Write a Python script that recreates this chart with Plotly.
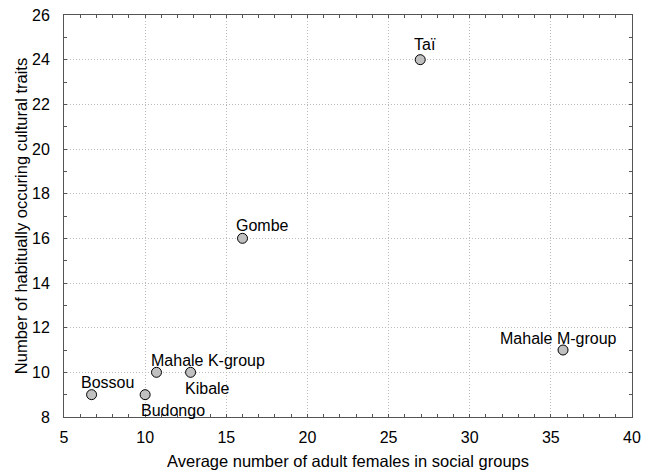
import plotly.graph_objects as go

sites = ["Bossou", "Budongo", "Mahale K-group", "Kibale", "Gombe", "Taï", "Mahale M-group"]
females = [6.7, 10.0, 10.7, 12.8, 16.0, 26.95, 35.75]
traits = [9, 9, 10, 10, 16, 24, 11]
label_dx = [16, 28, 51, 17, 20, 5, -5]
label_dy = [12, -16, 12, -16, 13, 15, 12]

FONT = "Liberation Sans, Arial"
fig = go.Figure()
fig.add_trace(go.Scatter(
    x=females, y=traits, mode="markers",
    marker=dict(size=10, color="#c0c0c0", line=dict(color="#000000", width=1)),
    hoverinfo="text", text=sites, showlegend=False,
))
for s, x, y, dx, dy in zip(sites, females, traits, label_dx, label_dy):
    fig.add_annotation(x=x, y=y, text=s, showarrow=False, xshift=dx, yshift=dy,
                       font=dict(family=FONT, size=16, color="#000000"))

axis_common = dict(
    showgrid=True, gridcolor="#bbbbbb", griddash="1px,2px", gridwidth=1,
    showline=True, linecolor="#555555", linewidth=1, mirror="ticks",
    ticks="inside", ticklen=3, tickcolor="#555555",
    minor=dict(ticks="inside", ticklen=3, tickcolor="#555555", dtick=1, showgrid=False),
    zeroline=False, automargin=False, ticklabeloverflow="allow",
    tickfont=dict(family=FONT, size=16, color="#000000"),
)
fig.update_xaxes(range=[5, 40], dtick=5, tick0=5, ticklabelstandoff=6,
                 title=dict(text="Average number of adult females in social groups",
                            font=dict(family=FONT, size=16.5, color="#000000"),
                            standoff=10),
                 **axis_common)
fig.update_yaxes(range=[8, 26], dtick=2, tick0=8, ticklabelstandoff=10,
                 title=dict(text="Number of habitually occuring cultural traits",
                            font=dict(family=FONT, size=16.5, color="#000000"),
                            standoff=0),
                 **axis_common)
fig.update_layout(
    width=649, height=471,
    margin=dict(l=56, r=25, t=7, b=62),
    plot_bgcolor="#ffffff", paper_bgcolor="#ffffff",
)
fig.write_html("out.html")
